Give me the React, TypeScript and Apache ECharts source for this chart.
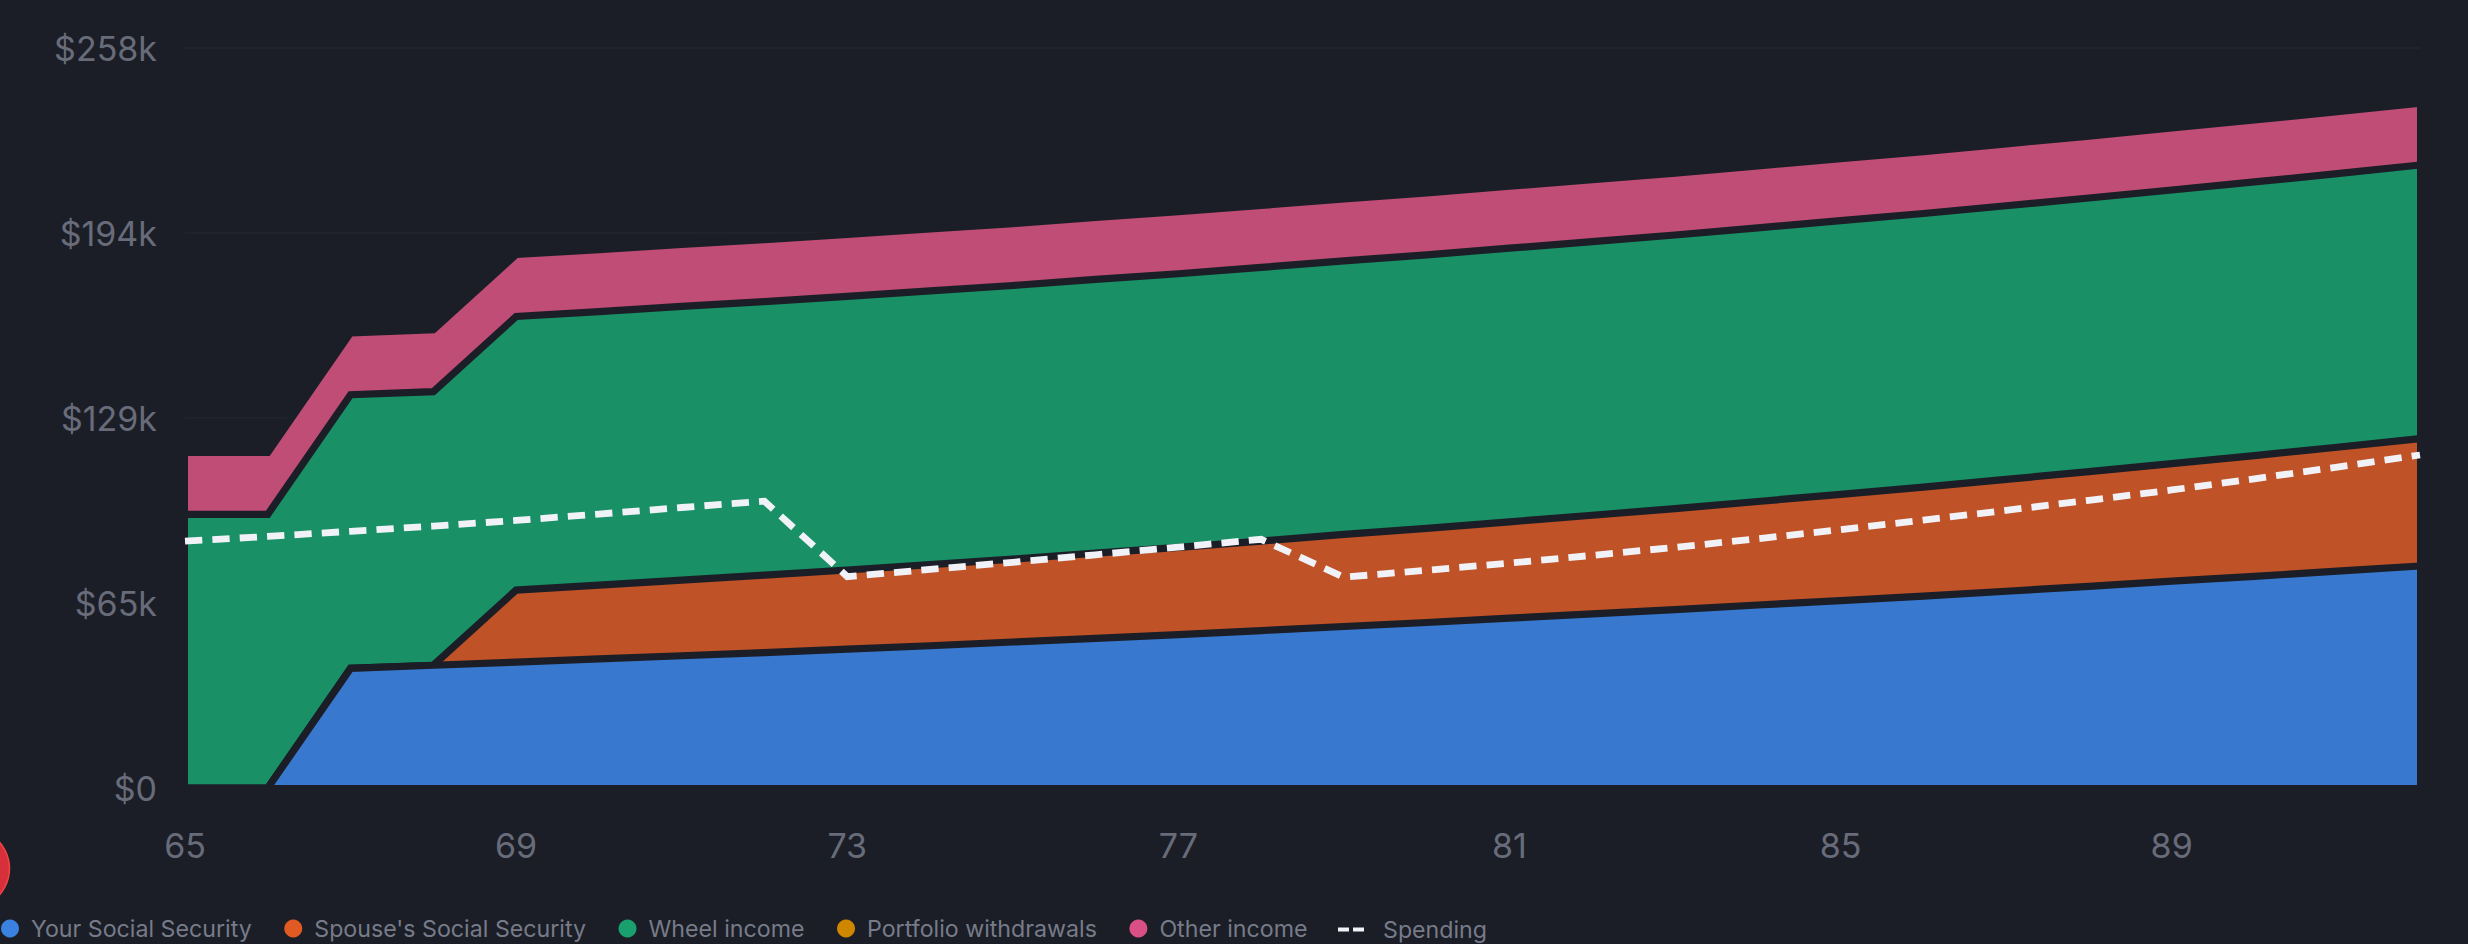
import React, { useEffect, useRef } from "react";
import * as echarts from "echarts";

const ages = ["65","66","67","68","69","70","71","72","73","74","75","76","77","78","79","80","81","82","83","84","85","86","87","88","89","90","91","92"];
const yTickLabels = ["$0", "$65k", "$129k", "$194k", "$258k"];

// values in $k
const yourSS = [0,0,41.7,42.8,43.9,45.0,46.1,47.2,48.4,49.6,50.9,52.2,53.5,54.9,56.3,57.7,59.2,60.7,62.2,63.8,65.3,66.9,68.6,70.3,72.1,73.8,75.6,77.4];
const spouseSS = [0,0,0,0,25.1,25.7,26.4,27.0,27.6,28.3,28.9,29.7,30.4,31.2,32.1,32.8,33.6,34.4,35.2,36.1,37.1,38.0,39.0,40.0,41.0,42.1,43.2,44.4];
const wheelIncome = [95.4,95.4,95.4,95.4,95.4,95.4,95.4,95.4,95.4,95.4,95.4,95.4,95.4,95.4,95.4,95.4,95.4,95.4,95.4,95.4,95.4,95.4,95.4,95.4,95.4,95.4,95.4,95.4];
const portfolioWithdrawals = [0,0,0,0,0,0,0,0,0,0,0,0,0,0,0,0,0,0,0,0,0,0,0,0,0,0,0,0];
const otherIncome = [21.6,21.6,21.6,21.6,21.6,21.6,21.6,21.6,21.6,21.6,21.6,21.6,21.6,21.6,21.6,21.6,21.6,21.6,21.6,21.6,21.6,21.6,21.6,21.6,21.6,21.6,21.6,21.6];
const spending = [86.1,87.7,89.5,91.3,93.3,95.5,97.8,100.0,73.7,76.2,78.7,81.3,84.0,86.7,73.5,75.9,78.4,81.1,83.9,86.9,90.1,93.4,96.8,100.3,103.9,107.8,111.9,116.1];

const BG = "#1b1e26";
const FONT = "Inter, sans-serif";

function areaSeries(name: string, data: number[], dot: string, fill: string, z: number, lineWidth = 7.2) {
  return {
    name,
    type: "line",
    stack: "income",
    data,
    z,
    symbol: "none",
    showSymbol: false,
    color: dot,
    lineStyle: { color: BG, width: lineWidth, join: "miter" },
    areaStyle: { color: fill, opacity: 1 },
  };
}

export default function App() {
  const ref = useRef<HTMLDivElement>(null);
  useEffect(() => {
    document.body.style.margin = "0";
    document.body.style.background = BG;
    const chart = echarts.init(ref.current!, null, { renderer: "svg" });
    chart.setOption({
      animation: false,
      backgroundColor: BG,
      textStyle: { fontFamily: FONT },
      grid: { left: 185, right: 48, top: 48, bottom: 156, containLabel: false },
      xAxis: {
        type: "category",
        data: ages,
        boundaryGap: false,
        axisLine: { show: false },
        axisTick: { show: false },
        splitLine: { show: false },
        axisLabel: { interval: 3, color: "#686c7a", fontSize: 34, fontFamily: FONT, margin: 40 },
      },
      yAxis: {
        type: "value",
        min: 0,
        max: 258,
        interval: 64.5,
        axisLine: { show: false },
        axisTick: { show: false },
        splitLine: { show: true, lineStyle: { color: "#20232d", width: 2 } },
        axisLabel: {
          color: "#686c7a",
          fontSize: 34,
          fontFamily: FONT,
          margin: 28,
          formatter: (v: number) => yTickLabels[Math.round(v / 64.5)],
        },
      },
      legend: [
        {
          data: ["Your Social Security", "Spouse's Social Security", "Wheel income", "Portfolio withdrawals", "Other income"],
          left: 1,
          top: 917,
          padding: 0,
          icon: "circle",
          itemWidth: 18,
          itemHeight: 18,
          itemGap: 32.5,
          selectedMode: false,
          textStyle: { color: "#777b89", fontSize: 23.2, fontFamily: FONT, padding: [0, 0, 0, 7] },
        },
        {
          data: ["Spending"],
          left: 1338,
          top: 918,
          padding: 0,
          icon: "path://M0 0H11V4H0ZM15 0H26V4H15Z",
          itemWidth: 26,
          itemHeight: 4,
          selectedMode: false,
          itemStyle: { color: "#f0f2f7" },
          textStyle: { color: "#777b89", fontSize: 23.2, fontFamily: FONT, padding: [0, 0, 0, 14] },
        },
      ],
      series: [
        areaSeries("Your Social Security", yourSS, "#3b82e0", "#3878ce", 6),
        areaSeries("Spouse's Social Security", spouseSS, "#e05a24", "#bf5226", 5),
        areaSeries("Wheel income", wheelIncome, "#1aa06f", "#199066", 4),
        areaSeries("Portfolio withdrawals", portfolioWithdrawals, "#d08700", "#c07a00", 3, 0),
        areaSeries("Other income", otherIncome, "#d94f86", "#bf4d76", 2),
        {
          name: "Spending",
          type: "line",
          data: spending,
          z: 10,
          symbol: "none",
          showSymbol: false,
          color: "#f0f2f7",
          lineStyle: { color: "#f0f2f7", width: 6.8, type: [17.3, 10.1], cap: "butt", join: "miter" },
        },
      ],
      graphic: [
        { type: "rect", z: 8, silent: true, shape: { x: 176, y: 440, width: 12, height: 356 }, style: { fill: BG } },
        { type: "rect", z: 8, silent: true, shape: { x: 2417, y: 90, width: 12, height: 706 }, style: { fill: BG } },
        { type: "rect", z: 8, silent: true, shape: { x: 176, y: 785, width: 2253, height: 11 }, style: { fill: BG } },
        { type: "circle", z: 8, silent: true, shape: { cx: -30, cy: 868.5, r: 39.5 }, style: { fill: "#d8303a", stroke: "#ef4444", lineWidth: 1.5 } },
      ],
    });
    return () => chart.dispose();
  }, []);
  return <div ref={ref} style={{ position: "absolute", left: 0, top: 0, width: 2468, height: 944 }} />;
}
